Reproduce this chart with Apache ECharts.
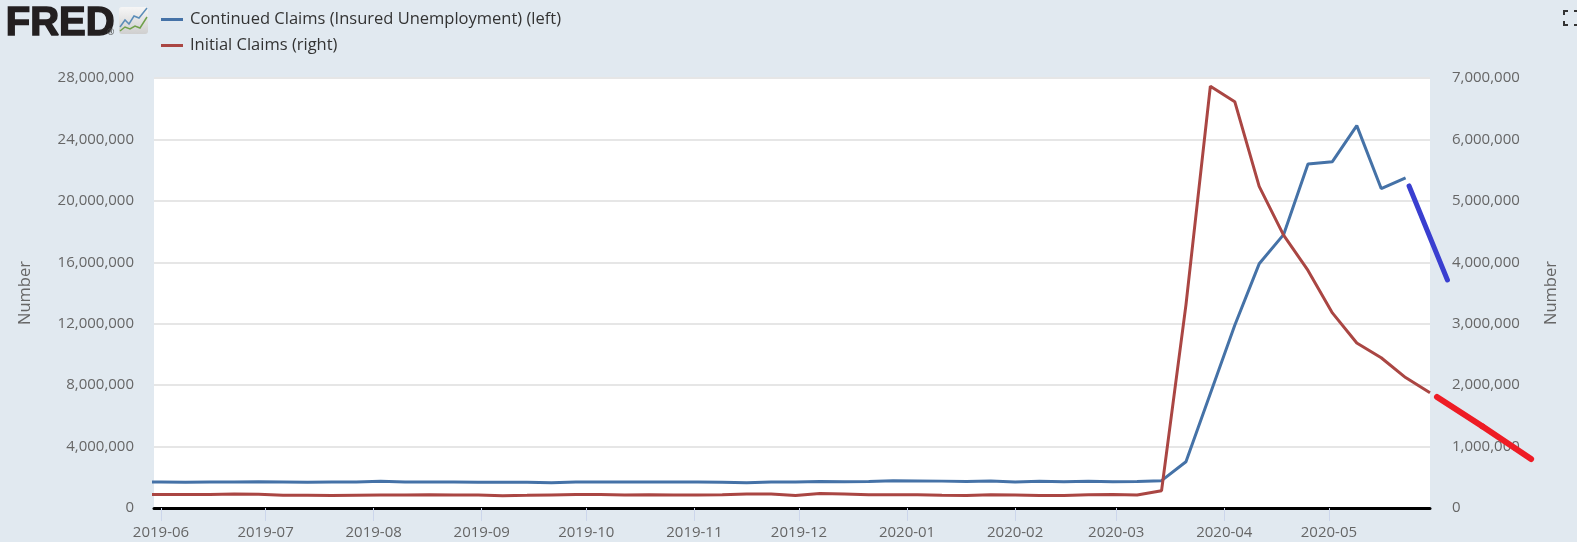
<!DOCTYPE html>
<html>
<head>
<meta charset="utf-8">
<style>html,body{margin:0;padding:0;background:#e1e9f0}#c{width:1577px;height:542px}</style>
<script src="https://cdn.jsdelivr.net/npm/echarts@6/dist/echarts.min.js"></script>
</head>
<body>
<div id="c"></div>
<script>
const weeks = ['2019-05-25','2019-06-01','2019-06-08','2019-06-15','2019-06-22','2019-06-29','2019-07-06','2019-07-13','2019-07-20','2019-07-27','2019-08-03','2019-08-10','2019-08-17','2019-08-24','2019-08-31','2019-09-07','2019-09-14','2019-09-21','2019-09-28','2019-10-05','2019-10-12','2019-10-19','2019-10-26','2019-11-02','2019-11-09','2019-11-16','2019-11-23','2019-11-30','2019-12-07','2019-12-14','2019-12-21','2019-12-28','2020-01-04','2020-01-11','2020-01-18','2020-01-25','2020-02-01','2020-02-08','2020-02-15','2020-02-22','2020-02-29','2020-03-07','2020-03-14','2020-03-21','2020-03-28','2020-04-04','2020-04-11','2020-04-18','2020-04-25','2020-05-02','2020-05-09','2020-05-16','2020-05-23','2020-05-30'];
const continuedClaims = [1700000,1690000,1670000,1690000,1700000,1710000,1700000,1680000,1690000,1700000,1740000,1700000,1690000,1700000,1680000,1680000,1680000,1650000,1690000,1690000,1690000,1690000,1700000,1700000,1680000,1650000,1690000,1690000,1730000,1710000,1730000,1770000,1760000,1750000,1720000,1760000,1690000,1740000,1710000,1740000,1710000,1720000,1780000,3010000,7450000,11900000,15900000,17800000,22400000,22550000,24900000,20800000,21500000,null];
const initialClaims = [218000,218000,218000,218000,227000,222000,209000,208000,205000,209000,210000,210000,216000,212000,210000,200000,206000,213000,218000,219000,210000,217000,212000,213000,215000,226000,226000,205000,235000,226000,216000,215000,215000,207000,203000,216000,212000,203000,205000,215000,219000,212000,282000,3307000,6867000,6615000,5237000,4442000,3867000,3176000,2687000,2446000,2123000,1877000];
const sketchBlueDates = ['2020-05-24','2020-06-04'];
const sketchBlueValues = [20970000,14850000];
const sketchRedDates = ['2020-06-01','2020-06-14','2020-06-28'];
const sketchRedValues = [1807000,1330000,798000];
const monthTicks = ['2019-06','2019-07','2019-08','2019-09','2019-10','2019-11','2019-12','2020-01','2020-02','2020-03','2020-04','2020-05'];
const leftMax = 28000000, leftStep = 4000000, rightMax = 7000000, rightStep = 1000000;

const ts = s => { const p = s.split('-').map(Number); return new Date(p[0], p[1]-1, p[2]||1).getTime(); };
const pad = n => (n<10?'0':'')+n;
const font = '"Open Sans"';
const grey = '#666666';

function sketchSeries(name, axisIndex, dates, values, color, width){
  const pts = dates.map((d,i)=>[ts(d),values[i]]);
  return {
    name, type:'custom', yAxisIndex:axisIndex, clip:false, silent:true, z:5,
    encode:{x:0,y:1}, data:pts,
    renderItem(params, api){
      const i = params.dataIndex;
      if(i===0) return null;
      const a = api.coord(pts[i-1]), b = api.coord(pts[i]);
      return {type:'line',shape:{x1:a[0],y1:a[1],x2:b[0],y2:b[1]},
              style:{stroke:color,lineWidth:width,lineCap:'round'}};
    }
  };
}

const chart = echarts.init(document.getElementById('c'), null, {renderer:'canvas'});
chart.setOption({
  animation:false,
  backgroundColor:'#e1e9f0',
  textStyle:{fontFamily:font},
  legend:{
    show:true, orient:'vertical', left:156, top:6, itemGap:9,
    itemWidth:22, itemHeight:3, icon:'rect',
    textStyle:{fontFamily:font,fontSize:16.5,color:'#333333',padding:[0,0,0,2]},
    data:['Continued Claims (Insured Unemployment) (left)','Initial Claims (right)']
  },
  grid:{left:154,right:147,top:78,height:430,show:true,backgroundColor:'#ffffff',borderWidth:0},
  xAxis:{
    type:'value', min:ts('2019-05-30'), max:ts('2020-05-30'),
    splitLine:{show:false},
    axisLine:{show:true,onZero:false,lineStyle:{color:'#000000',width:3}},
    axisTick:{show:true,length:13,customValues:monthTicks.map(m=>ts(m)),lineStyle:{color:'#ccd6eb',width:1}},
    axisLabel:{
      customValues:monthTicks.map(m=>ts(m)), margin:17, color:grey, fontSize:15, fontFamily:font,
      hideOverlap:false, showMinLabel:true, showMaxLabel:true,
      formatter:v=>{const d=new Date(v);return d.getFullYear()+'-'+pad(d.getMonth()+1);}
    }
  },
  yAxis:[
    {type:'value',min:0,max:leftMax,interval:leftStep,position:'left',
     name:'Number',nameLocation:'middle',nameGap:120,nameTextStyle:{color:grey,fontSize:16.5,fontFamily:font},
     axisLine:{show:false},axisTick:{show:false},
     axisLabel:{margin:20,color:grey,fontSize:15,fontFamily:font,padding:[4,0,0,0],formatter:v=>v.toLocaleString('en-US')},
     splitLine:{show:true,lineStyle:{color:'#e6e6e6',width:2}}},
    {type:'value',min:0,max:rightMax,interval:rightStep,position:'right',
     name:'Number',nameLocation:'middle',nameGap:113,nameTextStyle:{color:grey,fontSize:16.5,fontFamily:font},
     axisLine:{show:false},axisTick:{show:false},
     axisLabel:{margin:22,color:grey,fontSize:15,fontFamily:font,padding:[4,0,0,0],formatter:v=>v.toLocaleString('en-US')},
     splitLine:{show:false}}
  ],
  series:[
    {name:'Continued Claims (Insured Unemployment) (left)',type:'line',yAxisIndex:0,showSymbol:false,symbol:'none',
     lineStyle:{color:'#4572a7',width:3},itemStyle:{color:'#4572a7'},connectNulls:false,clip:true,
     data:weeks.map((w,i)=>[ts(w),continuedClaims[i]])},
    {name:'Initial Claims (right)',type:'line',yAxisIndex:1,showSymbol:false,symbol:'none',
     lineStyle:{color:'#aa4643',width:3},itemStyle:{color:'#aa4643'},clip:true,
     data:weeks.map((w,i)=>[ts(w),initialClaims[i]])},
    sketchSeries('sketchBlue',0,sketchBlueDates,sketchBlueValues,'#3a3fd0',5),
    sketchSeries('sketchRed',1,sketchRedDates,sketchRedValues,'#ee1c25',6)
  ],
  graphic:[
    {type:'text',left:5,top:3,style:{text:'FRED',fontFamily:'"Liberation Sans"',fontWeight:900,fontSize:40,fill:'#231f20',stroke:'#231f20',lineWidth:1.5}},
    {type:'text',left:107,top:28,style:{text:'®',fontFamily:font,fontSize:9,fill:'#444'}},
    {type:'rect',shape:{x:119,y:7,width:29,height:27,r:3},style:{fill:new echarts.graphic.LinearGradient(0,0,0,1,[{offset:0,color:'#f6f6f6'},{offset:1,color:'#cfcfcf'}])}},
    {type:'polyline',shape:{points:[[120,27],[125,20],[129,24],[134,16],[139,18],[147,8]]},style:{stroke:'#5b8db8',lineWidth:1.5,fill:'none'}},
    {type:'polyline',shape:{points:[[120,31],[125,27],[130,29],[135,26],[140,28],[147,17]]},style:{stroke:'#6fa04a',lineWidth:1.5,fill:'none'}},
    {type:'polyline',shape:{points:[[1564,15],[1564,11],[1568,11]]},style:{stroke:'#333',lineWidth:2,fill:'none'}},
    {type:'polyline',shape:{points:[[1564,21],[1564,25],[1568,25]]},style:{stroke:'#333',lineWidth:2,fill:'none'}},
    {type:'polyline',shape:{points:[[1574,11],[1577,11]]},style:{stroke:'#333',lineWidth:2,fill:'none'}},
    {type:'polyline',shape:{points:[[1574,25],[1577,25]]},style:{stroke:'#333',lineWidth:2,fill:'none'}}
  ]
});
</script>
</body>
</html>
